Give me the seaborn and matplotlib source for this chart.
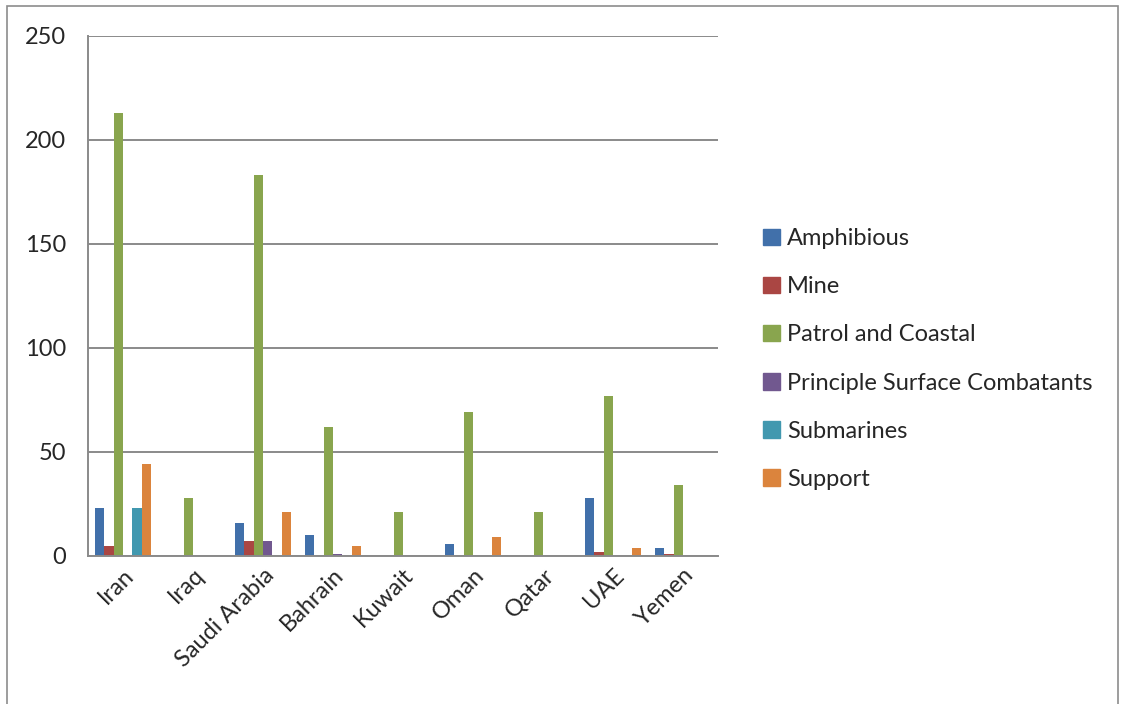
import numpy as np
import pandas as pd
import seaborn as sns
from matplotlib import pyplot as plt
from matplotlib.patches import Rectangle

# chart data
countries = ['Iran', 'Iraq', 'Saudi Arabia', 'Bahrain', 'Kuwait', 'Oman', 'Qatar', 'UAE', 'Yemen']
series = ['Amphibious', 'Mine', 'Patrol and Coastal', 'Principle Surface Combatants', 'Submarines', 'Support']
amphibious = [23, 0, 16, 10, 0, 6, 0, 28, 4]
mine = [5, 0, 7, 0, 0, 0, 0, 2, 1]
patrol = [213, 28, 183, 62, 21, 69, 21, 77, 34]
principle = [0, 0, 7, 1, 0, 0, 0, 0, 0]
submarines = [23, 0, 0, 0, 0, 0, 0, 0, 0]
support = [44, 0, 21, 5, 0, 9, 0, 4, 0]
colors = ['#4170AA', '#AA4643', '#89A54E', '#71588F', '#4198AF', '#DB843D']

values = [amphibious, mine, patrol, principle, submarines, support]
rows = []
for s, vals in zip(series, values):
    for c, v in zip(countries, vals):
        rows.append({'Country': c, 'Type': s, 'Count': v})
data = pd.DataFrame(rows)

sns.set_style('white')
plt.rcParams['font.family'] = ['Lato', 'DejaVu Sans']
fs = 17

fig = plt.figure(figsize=(11.25, 7.04), dpi=100)
ax = fig.add_axes([88 / 1125, 1 - 556 / 704, 630 / 1125, 520 / 704])

sns.barplot(data=data, x='Country', y='Count', hue='Type', hue_order=series,
            order=countries, palette=colors, width=0.8, ax=ax, legend=False,
            saturation=1, edgecolor='none')

ax.set_ylim(0, 250)
ax.set_xlim(-0.5, len(countries) - 0.5)
ax.set_yticks(np.arange(0, 251, 50))
ax.yaxis.grid(True, color='#8a8a8a', lw=1.4)
ax.set_axisbelow(True)
ax.set_xlabel('')
ax.set_ylabel('')

for side in ['top', 'right']:
    ax.spines[side].set_visible(False)
for side in ['left', 'bottom']:
    ax.spines[side].set_color('#8a8a8a')
    ax.spines[side].set_linewidth(1.4)

ax.set_xticks(np.arange(-0.5, len(countries)), minor=True)
ax.tick_params(axis='x', which='minor', length=8, width=1.4, color='#8a8a8a', direction='out')
ax.tick_params(axis='x', which='major', length=0, pad=6)
ax.tick_params(axis='y', length=8, width=1.4, color='#8a8a8a', direction='out', pad=8)
ax.set_xticks(range(len(countries)))
ax.set_xticklabels(countries, rotation=45, ha='right', rotation_mode='anchor', fontsize=fs)
for lbl in ax.get_yticklabels():
    lbl.set_fontsize(fs)

handles = [Rectangle((0, 0), 1, 1, color=c) for c in colors]
fig.legend(handles, series, loc='center left', bbox_to_anchor=(742 / 1125, 1 - 359 / 704),
           frameon=False, fontsize=fs, handlelength=0.7, handleheight=0.7,
           handletextpad=0.3, labelspacing=1.15)

fig.patches.append(Rectangle((7 / 1125, -0.01), 1111 / 1125, 1 - 6 / 704 + 0.01,
                             transform=fig.transFigure, fill=False,
                             edgecolor='#8c8c8c', lw=1.2))

plt.savefig('out.png', dpi=100)
